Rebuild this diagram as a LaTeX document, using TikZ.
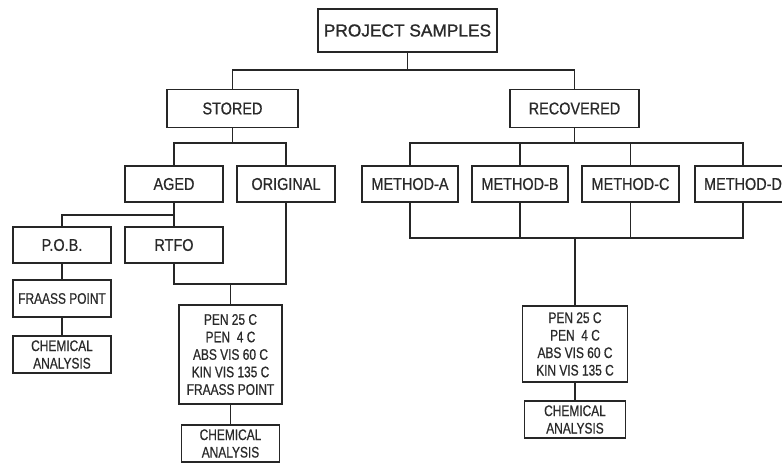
\documentclass[tikz,border=0pt]{standalone}
\usepackage{fontspec}
\setmainfont{Liberation Sans}[FakeStretch=0.85,FakeBold=0.6]
\newfontfamily\titlefont{Liberation Sans}[FakeBold=1.2]
\newfontfamily\smallfont{Liberation Sans}[FakeStretch=0.78,FakeBold=0.6]
\definecolor{ink}{HTML}{262626}
\definecolor{txt}{HTML}{2A2A2A}
\begin{document}
\begin{tikzpicture}[x=1pt,y=-1pt,
  box/.style={draw=ink, line width=1.1pt, inner sep=0pt, text=txt, align=center},
  big/.style={box, font=\fontsize{17}{19}\selectfont},
  small/.style={box, font=\smallfont\fontsize{15.3}{17.5}\selectfont},
  conn/.style={draw=ink, line width=1.1pt}]
\clip (0,0) rectangle (782,466);
\fill[white] (0,0) rectangle (782,466);
% nodes
\node[box, minimum width=179pt, minimum height=43pt, font=\titlefont\fontsize{17.3}{19}\selectfont] (ps) at (407.5,30.5) {PROJECT SAMPLES};
\node[big, minimum width=131pt, minimum height=38pt] (stored) at (232.5,108.5) {STORED};
\node[big, minimum width=129pt, minimum height=38pt] (rec) at (574.5,108.5) {RECOVERED};
\node[big, minimum width=98pt, minimum height=36pt] (aged) at (174,184) {AGED};
\node[big, minimum width=98pt, minimum height=36pt] (orig) at (286,184) {ORIGINAL};
\node[big, minimum width=96pt, minimum height=36pt] (ma) at (410,184) {METHOD-A};
\node[big, minimum width=96pt, minimum height=36pt] (mb) at (520,184) {METHOD-B};
\node[big, minimum width=97pt, minimum height=36pt] (mc) at (630.5,184) {METHOD-C};
\node[big, minimum width=96pt, minimum height=36pt] (md) at (743,184) {METHOD-D};
\node[big, minimum width=98pt, minimum height=36pt] (pob) at (62,245) {P.O.B.};
\node[big, minimum width=98pt, minimum height=36pt] (rtfo) at (174,245) {RTFO};
\node[small, minimum width=98pt, minimum height=37pt] (fp) at (62,298.5) {FRAASS POINT};
\node[small, minimum width=98pt, minimum height=37pt] (chl) at (62,354.5) {CHEMICAL\\ANALYSIS};
\node[small, minimum width=103pt, minimum height=99pt] (penL) at (230.5,354.5) {PEN 25 C\\PEN\ \ 4 C\\ABS VIS 60 C\\KIN VIS 135 C\\FRAASS POINT};
\node[small, minimum width=98pt, minimum height=37pt] (chL) at (230.5,443.5) {CHEMICAL\\ANALYSIS};
\node[small, minimum width=105pt, minimum height=76pt] (penR) at (575,344) {PEN 25 C\\PEN\ \ 4 C\\ABS VIS 60 C\\KIN VIS 135 C};
\node[small, minimum width=101pt, minimum height=37pt] (chR) at (575,419.5) {CHEMICAL\\ANALYSIS};
% junctions
\coordinate (j1) at (407.5,70);
\coordinate (j2) at (232.5,143);
\coordinate (j3) at (574.5,143);
\coordinate (j4) at (174,215);
\coordinate (j5) at (575,238);
\coordinate (j6) at (230.5,284);
% connectors
\draw[conn] (ps.south) -- (j1);
\draw[conn] (stored.north) |- (j1) -| (rec.north);
\draw[conn] (stored.south) -- (j2);
\draw[conn] (aged.north) |- (j2) -| (orig.north);
\draw[conn] (rec.south) -- (j3);
\draw[conn] (ma.north) |- (j3) -| (md.north);
\draw[conn] (mb.north) -- (mb.north |- j3);
\draw[conn] (mc.north) -- (mc.north |- j3);
\draw[conn] (ma.south) |- (j5) -| (md.south);
\draw[conn] (mb.south) -- (mb.south |- j5);
\draw[conn] (mc.south) -- (mc.south |- j5);
\draw[conn] (j5) -- (penR.north);
\draw[conn] (penR.south) -- (chR.north);
\draw[conn] (aged.south) -- (j4);
\draw[conn] (pob.north) |- (j4) -- (rtfo.north);
\draw[conn] (pob.south) -- (fp.north);
\draw[conn] (fp.south) -- (chl.north);
\draw[conn] (rtfo.south) |- (j6) -| (orig.south);
\draw[conn] (j6) -- (penL.north);
\draw[conn] (penL.south) -- (chL.north);
\end{tikzpicture}
\end{document}
